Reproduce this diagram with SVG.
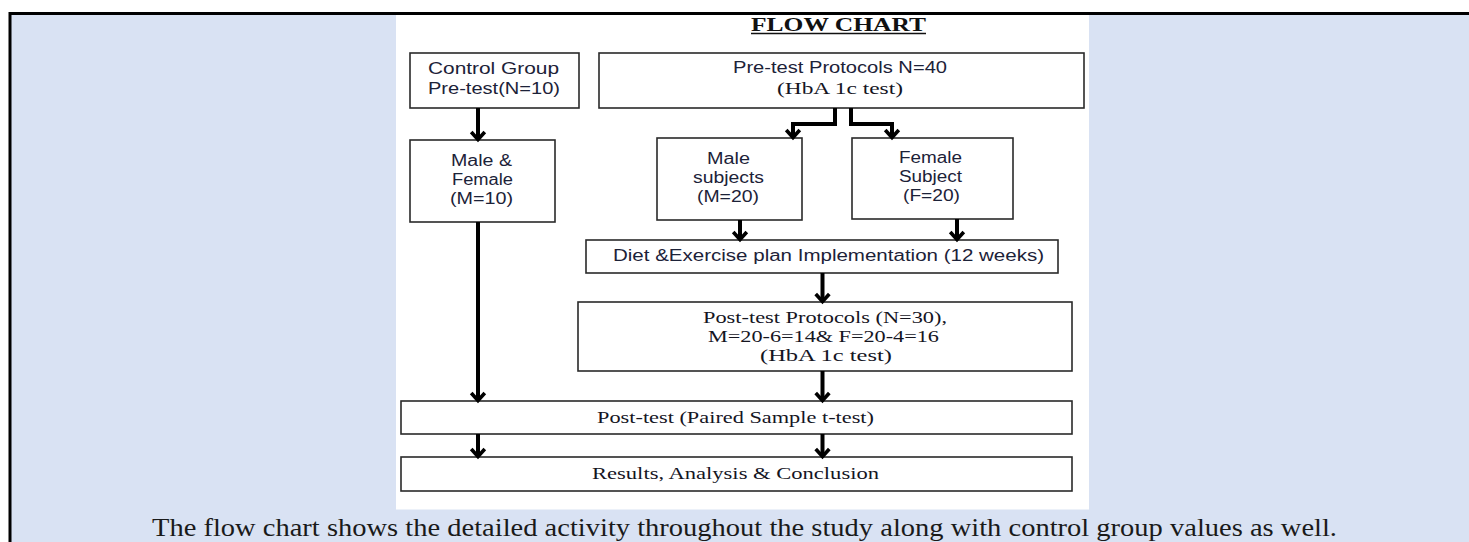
<svg xmlns="http://www.w3.org/2000/svg" width="1469" height="542" viewBox="0 0 1469 542">
<style>
.box{fill:#fff;stroke:#2a2a2a;stroke-width:1.6}
.sans{font-family:"Liberation Sans","Open Sans",sans-serif;font-size:16px;fill:#1c2238}
.serif{font-family:"Liberation Serif","DejaVu Serif",serif;font-size:16.5px;fill:#15151f}
.conn{fill:none;stroke:#000;stroke-width:4}
.cap{font-family:"Liberation Serif","DejaVu Serif",serif;font-size:25px;fill:#1a1a1a}
</style>
<defs>
<marker id="ah" markerUnits="userSpaceOnUse" markerWidth="20" markerHeight="20" viewBox="0 0 20 20" refX="9.5" refY="10" orient="auto" overflow="visible">
<path d="M2.5,3.2 L10,10 L2.5,16.8" fill="none" stroke="#000" stroke-width="3.6"/>
</marker>
</defs>
<rect x="0" y="0" width="1469" height="542" fill="#fff"/>
<rect x="10" y="14" width="1459" height="528" fill="#d9e2f3"/>
<path d="M10,542 V13.5 H1469" fill="none" stroke="#000" stroke-width="3"/>
<rect x="396" y="15" width="693" height="494.5" fill="#fff"/>

<g id="title">
<text x="751" y="31" font-family="Liberation Serif,serif" font-weight="bold" font-size="18" fill="#111" textLength="175" lengthAdjust="spacingAndGlyphs">FLOW CHART</text>
<line x1="751" y1="33.5" x2="926" y2="33.5" stroke="#111" stroke-width="1.5"/>
</g>

<g id="control">
<rect class="box" x="410" y="53" width="169" height="55"/>
<text class="sans" x="428" y="74" textLength="131" lengthAdjust="spacingAndGlyphs">Control Group</text>
<text class="sans" x="428" y="94" textLength="132" lengthAdjust="spacingAndGlyphs">Pre-test(N=10)</text>
</g>

<g id="pretest">
<rect class="box" x="599" y="53" width="485" height="55"/>
<text class="sans" x="733" y="73" textLength="214" lengthAdjust="spacingAndGlyphs">Pre-test Protocols N=40</text>
<text class="serif" x="777" y="94" textLength="126" lengthAdjust="spacingAndGlyphs">(HbA 1c test)</text>
</g>

<g id="malefemale">
<rect class="box" x="410" y="140" width="145" height="82"/>
<text class="sans" x="451" y="166" textLength="61" lengthAdjust="spacingAndGlyphs">Male &amp;</text>
<text class="sans" x="452" y="185" textLength="61" lengthAdjust="spacingAndGlyphs">Female</text>
<text class="sans" x="450" y="204" textLength="63" lengthAdjust="spacingAndGlyphs">(M=10)</text>
</g>

<g id="male">
<rect class="box" x="657" y="138" width="145" height="82"/>
<text class="sans" x="707" y="164" textLength="43" lengthAdjust="spacingAndGlyphs">Male</text>
<text class="sans" x="693" y="183" textLength="71" lengthAdjust="spacingAndGlyphs">subjects</text>
<text class="sans" x="697" y="202" textLength="62" lengthAdjust="spacingAndGlyphs">(M=20)</text>
</g>

<g id="female">
<rect class="box" x="852" y="138" width="161" height="81"/>
<text class="sans" x="899" y="163" textLength="63" lengthAdjust="spacingAndGlyphs">Female</text>
<text class="sans" x="899" y="182" textLength="63" lengthAdjust="spacingAndGlyphs">Subject</text>
<text class="sans" x="903" y="201" textLength="57" lengthAdjust="spacingAndGlyphs">(F=20)</text>
</g>

<g id="diet">
<rect class="box" x="586" y="240" width="472" height="33"/>
<text class="sans" x="613" y="261" font-size="15" textLength="431" lengthAdjust="spacingAndGlyphs">Diet &amp;Exercise plan Implementation (12 weeks)</text>
</g>

<g id="posttestprotocols">
<rect class="box" x="578" y="302" width="494" height="69"/>
<text class="serif" x="703" y="323" textLength="244" lengthAdjust="spacingAndGlyphs">Post-test Protocols (N=30),</text>
<text class="serif" x="708" y="342" textLength="231" lengthAdjust="spacingAndGlyphs">M=20-6=14&amp; F=20-4=16</text>
<text class="serif" x="760" y="361" textLength="132" lengthAdjust="spacingAndGlyphs">(HbA 1c test)</text>
</g>

<g id="posttest">
<rect class="box" x="401" y="401" width="671" height="33"/>
<text class="serif" x="597" y="423" textLength="277" lengthAdjust="spacingAndGlyphs">Post-test (Paired Sample t-test)</text>
</g>

<g id="results">
<rect class="box" x="401" y="457" width="671" height="34"/>
<text class="serif" x="592" y="479" textLength="287" lengthAdjust="spacingAndGlyphs">Results, Analysis &amp; Conclusion</text>
</g>

<g id="connectors">
<path class="conn" d="M478,108 V139" marker-end="url(#ah)"/>
<path class="conn" d="M478,222 V400" marker-end="url(#ah)"/>
<path class="conn" d="M835,108 V124 H793 V137" marker-end="url(#ah)"/>
<path class="conn" d="M851,108 V124 H892 V137" marker-end="url(#ah)"/>
<path class="conn" d="M740,220 V239" marker-end="url(#ah)"/>
<path class="conn" d="M957,219 V239" marker-end="url(#ah)"/>
<path class="conn" d="M822.5,273 V301" marker-end="url(#ah)"/>
<path class="conn" d="M822.5,371 V400" marker-end="url(#ah)"/>
<path class="conn" d="M478,434 V456" marker-end="url(#ah)"/>
<path class="conn" d="M822.5,434 V456" marker-end="url(#ah)"/>
</g>

<text class="cap" x="152" y="536" textLength="1185" lengthAdjust="spacingAndGlyphs">The flow chart shows the detailed activity throughout the study along with control group values as well.</text>
</svg>
